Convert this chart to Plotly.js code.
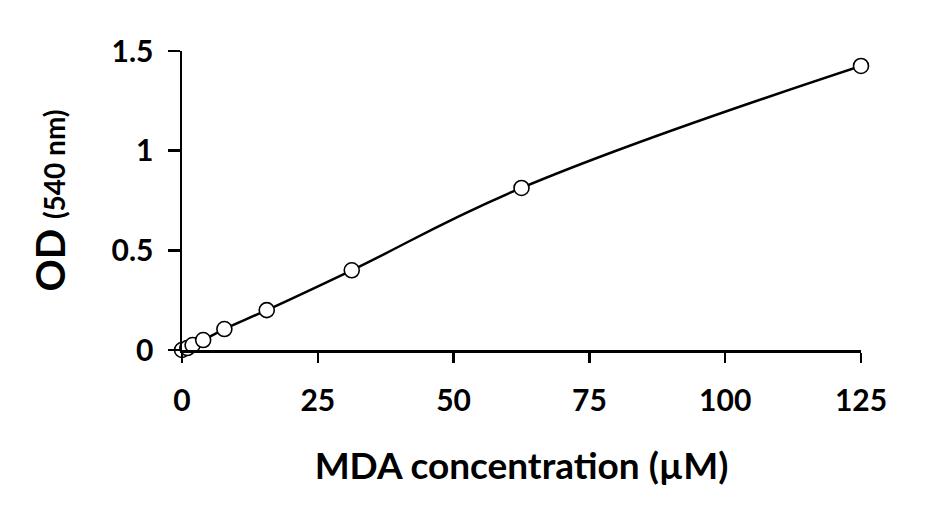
<!DOCTYPE html>
<html>
<head>
<meta charset="utf-8">
<script src="https://cdn.plot.ly/plotly-3.0.1.min.js"></script>
<style>
  html, body { margin: 0; padding: 0; background: #fff; }
  #plot { width: 934px; height: 520px; }
</style>
</head>
<body>
<div id="plot"></div>
<script>
const concentration = [0, 0.98, 1.95, 3.9, 7.8, 15.6, 31.25, 62.5, 125];
const od = [0, 0.01, 0.025, 0.05, 0.105, 0.2, 0.4, 0.813, 1.425];
const xTicks = [0, 25, 50, 75, 100, 125];
const yTicks = [0, 0.5, 1, 1.5];
const yTickText = ['0', '0.5', '1', '1.5'];

const FONT = 'Lato, "Open Sans", sans-serif';

const fit = {
  x: concentration,
  y: od,
  mode: 'lines',
  type: 'scatter',
  line: { color: '#000', width: 2.5, shape: 'spline', smoothing: 1.2 },
  hoverinfo: 'skip',
  cliponaxis: false
};

const points = {
  x: concentration,
  y: od,
  mode: 'markers',
  type: 'scatter',
  marker: { symbol: 'circle', size: 15, color: '#fff', line: { color: '#000', width: 1.6 } },
  cliponaxis: false
};

const layout = {
  width: 934,
  height: 520,
  margin: { l: 182, r: 73, t: 51, b: 170 },
  paper_bgcolor: '#fff',
  plot_bgcolor: '#fff',
  showlegend: false,
  font: { family: FONT, color: '#000' },
  xaxis: {
    range: [0, 125],
    tickvals: xTicks,
    ticktext: xTicks.map(String),
    showgrid: false,
    zeroline: false,
    showline: true,
    linecolor: '#000',
    linewidth: 2.5,
    ticks: 'outside',
    ticklen: 10,
    tickwidth: 2.5,
    tickcolor: '#000',
    ticklabelstandoff: 12,
    tickfont: { family: FONT, size: 30, color: '#000', weight: 'bold' },
    title: {
      text: '<b>MDA concentration (µM)</b>',
      font: { family: FONT, size: 37, color: '#000' },
      standoff: 38
    }
  },
  yaxis: {
    range: [0, 1.5],
    tickvals: yTicks,
    ticktext: yTickText,
    showgrid: false,
    zeroline: false,
    showline: true,
    linecolor: '#000',
    linewidth: 2.5,
    ticks: 'outside',
    ticklen: 12,
    tickwidth: 2.5,
    tickcolor: '#000',
    ticklabelstandoff: 8,
    tickfont: { family: FONT, size: 30, color: '#000', weight: 'bold' },
    title: {
      text: '<b>OD <span style="font-size:28px">(540 nm)</span></b>',
      font: { family: FONT, size: 40, color: '#000' },
      standoff: 34
    }
  }
};

Plotly.newPlot('plot', [fit, points], layout, { displayModeBar: false, staticPlot: true });
</script>
</body>
</html>
